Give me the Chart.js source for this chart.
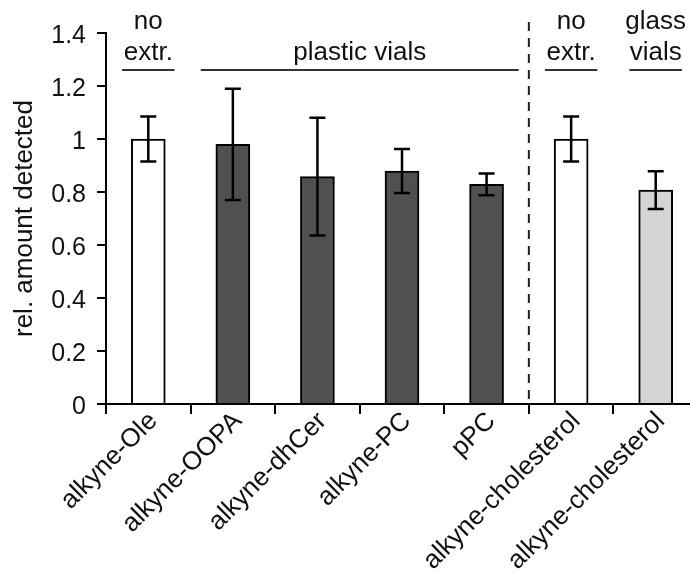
<!DOCTYPE html>
<html>
<head>
<meta charset="utf-8">
<script src="https://cdn.jsdelivr.net/npm/chart.js@4"></script>
<style>
  html, body { margin: 0; padding: 0; background: #fff; overflow: hidden; }
  #wrap { width: 700px; height: 571px; }
</style>
</head>
<body>
<div id="wrap"><canvas id="chart" width="700" height="571"></canvas></div>
<script>
// --- data ---
const categories = ['alkyne-Ole', 'alkyne-OOPA', 'alkyne-dhCer', 'alkyne-PC', 'pPC', 'alkyne-cholesterol', 'alkyne-cholesterol'];
const values = [1.00, 0.98, 0.858, 0.879, 0.829, 1.00, 0.807];
const errors = [0.085, 0.21, 0.222, 0.083, 0.041, 0.085, 0.071];
const barColors = ['#ffffff', '#505050', '#505050', '#505050', '#505050', '#ffffff', '#d3d4d6'];
const yTicks = [0, 0.2, 0.4, 0.6, 0.8, 1, 1.2, 1.4];

// group labels above the bars (first / last category index of each group)
const groupLabels = [['no', 'extr.'], ['plastic vials'], ['no', 'extr.'], ['glass', 'vials']];
const groupFrom = [0, 1, 5, 6];
const groupTo = [0, 4, 5, 6];
const groupLineValue = 1.26;
const dividerAt = 4.5; // dashed line between pPC and the cholesterol bars

const FONT = "'Liberation Sans', Arial, sans-serif";

// error bars
const errorBarPlugin = {
    id: 'errorBars',
    afterDatasetsDraw(chart) {
        const ctx = chart.ctx;
        const y = chart.scales.y;
        const meta = chart.getDatasetMeta(0);
        ctx.save();
        ctx.strokeStyle = '#000';
        ctx.lineWidth = 2.5;
        meta.data.forEach((bar, i) => {
            const top = y.getPixelForValue(values[i] + errors[i]);
            const bot = y.getPixelForValue(values[i] - errors[i]);
            ctx.beginPath();
            ctx.moveTo(bar.x, top); ctx.lineTo(bar.x, bot);
            ctx.moveTo(bar.x - 8, top); ctx.lineTo(bar.x + 8, top);
            ctx.moveTo(bar.x - 8, bot); ctx.lineTo(bar.x + 8, bot);
            ctx.stroke();
        });
        ctx.restore();
    }
};

// group labels, their lines and the dashed divider
const annotatePlugin = {
    id: 'annotate',
    afterDraw(chart) {
        const ctx = chart.ctx;
        const x = chart.scales.x;
        const y = chart.scales.y;
        const step = x.getPixelForValue(1) - x.getPixelForValue(0);
        const lineY = y.getPixelForValue(groupLineValue);
        ctx.save();

        groupLabels.forEach((lines, g) => {
            const inset = groupFrom[g] === groupTo[g] ? 0.31 : 0.38;
            const x0 = x.getPixelForValue(groupFrom[g]) - inset * step;
            const x1 = x.getPixelForValue(groupTo[g]) + inset * step;
            ctx.strokeStyle = '#333';
            ctx.lineWidth = 2;
            ctx.beginPath();
            ctx.moveTo(x0, lineY); ctx.lineTo(x1, lineY);
            ctx.stroke();

            ctx.fillStyle = '#111';
            ctx.font = '26px ' + FONT;
            ctx.textAlign = 'center';
            ctx.textBaseline = 'alphabetic';
            const cx = (x0 + x1) / 2;
            for (let k = 0; k < lines.length; k++) {
                const fromBottom = lines.length - 1 - k;
                ctx.fillText(lines[k], cx, lineY - 10 - fromBottom * 31);
            }
        });

        // dashed divider
        const dx = x.getPixelForValue(dividerAt);
        ctx.strokeStyle = '#222';
        ctx.lineWidth = 2;
        ctx.setLineDash([9, 7]);
        ctx.beginPath();
        ctx.moveTo(dx, 22);
        ctx.lineTo(dx, y.getPixelForValue(0));
        ctx.stroke();
        ctx.restore();
    }
};

new Chart(document.getElementById('chart'), {
    type: 'bar',
    data: {
        labels: categories,
        datasets: [{
            data: values,
            backgroundColor: barColors,
            borderColor: '#000',
            borderWidth: 2,
            borderSkipped: 'bottom',
            barThickness: 34
        }]
    },
    options: {
        responsive: false,
        animation: false,
        layout: { padding: { top: 33, left: 0, right: 2, bottom: 0 } },
        plugins: { legend: { display: false }, tooltip: { enabled: false } },
        scales: {
            x: {
                afterFit: (axis) => { axis.height = 167; },
                grid: { drawOnChartArea: false, tickLength: 10, color: '#000', lineWidth: 2, offset: true },
                border: { color: '#000', width: 2 },
                ticks: {
                    minRotation: 45, maxRotation: 45, autoSkip: false,
                    color: '#111', font: { family: FONT, size: 26 }, padding: -8, labelOffset: 5
                }
            },
            y: {
                min: 0, max: 1.4,
                afterFit: (axis) => { axis.width = 106; },
                afterBuildTicks: (axis) => { axis.ticks = yTicks.map(v => ({ value: v })); },
                grid: { drawOnChartArea: false, tickLength: 9, color: '#000', lineWidth: 2 },
                border: { color: '#000', width: 2 },
                ticks: {
                    color: '#111', font: { family: FONT, size: 25 }, padding: 11, labelOffset: 3,
                    callback: (v) => String(v)
                },
                title: {
                    display: true, text: 'rel. amount detected', color: '#111',
                    font: { family: FONT, size: 26 }, padding: { top: 9, bottom: 0 }
                }
            }
        }
    },
    plugins: [errorBarPlugin, annotatePlugin]
});
</script>
</body>
</html>
